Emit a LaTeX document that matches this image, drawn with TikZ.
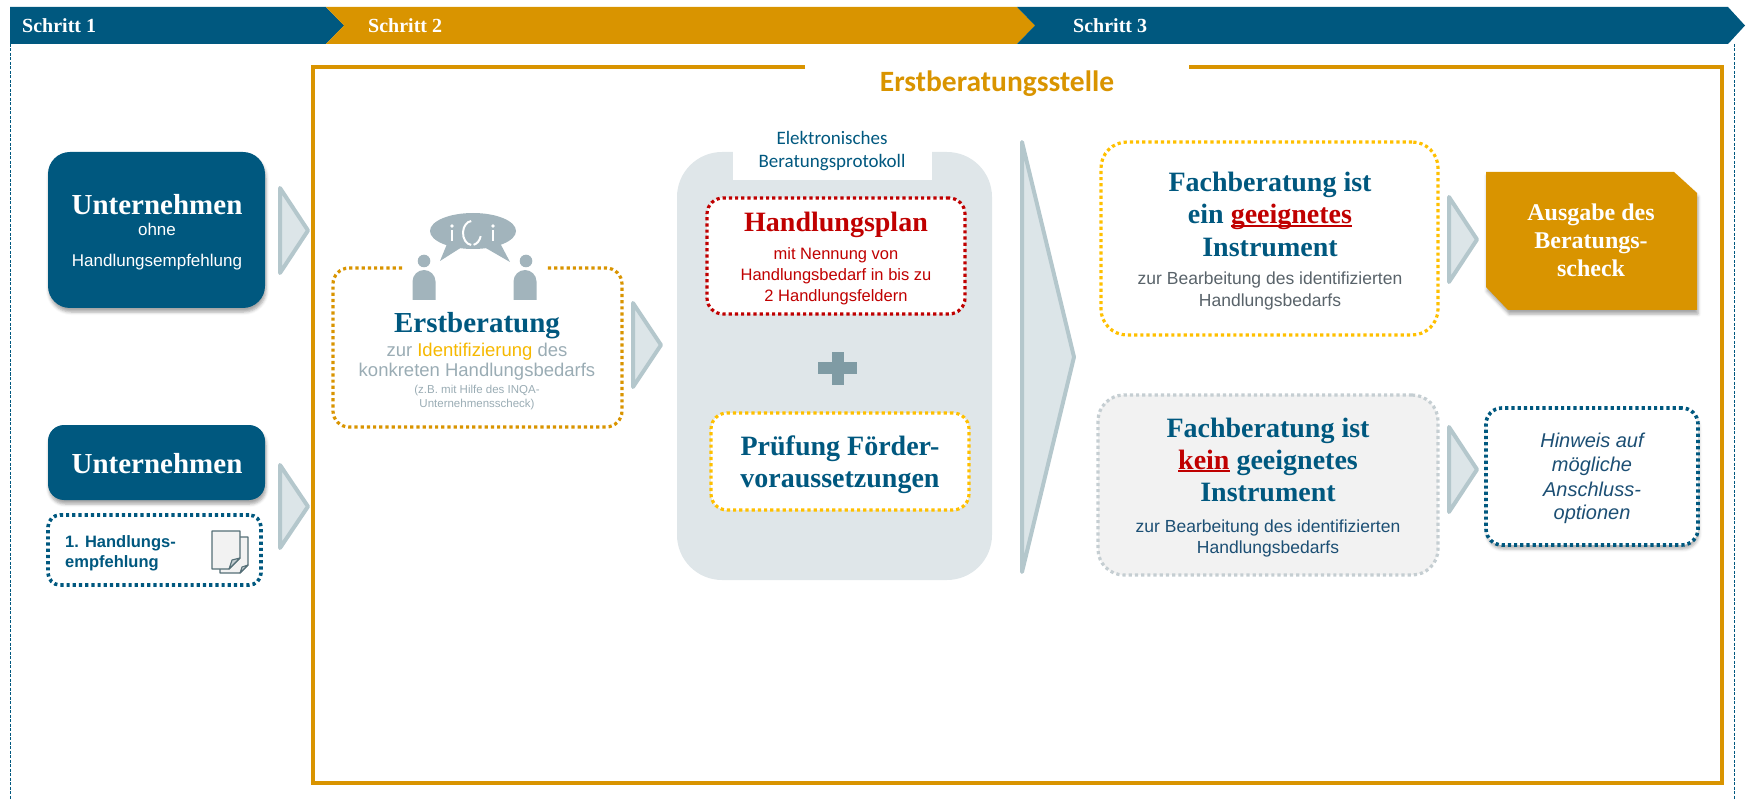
\documentclass[tikz,border=0pt]{standalone}
\usepackage{fontspec}
\setmainfont{Liberation Sans}
\newfontfamily\fcam{Liberation Serif}
\newfontfamily\fcarl{Carlito}
\usetikzlibrary{shadows.blur}
\newcommand\setfs[1]{\fontsize{#1}{#1}\selectfont}
\newcommand\redul[1]{\setbox0\hbox{#1}\rlap{\rule[-3pt]{\wd0}{1.8pt}}\box0}
\definecolor{dblue}{HTML}{00587F}
\definecolor{orng}{HTML}{D99400}
\definecolor{gtext}{HTML}{9AACB4}
\definecolor{ident}{HTML}{F6B800}
\definecolor{dred}{HTML}{C00000}
\definecolor{yel}{HTML}{FFC000}
\definecolor{panel}{HTML}{DFE6E9}
\definecolor{chevf}{HTML}{DCE5E8}
\definecolor{chevs}{HTML}{B4C7CC}
\definecolor{iconc}{HTML}{A2B4BC}
\definecolor{plusc}{HTML}{7F9BA4}
\definecolor{gbord}{HTML}{C5CED2}
\definecolor{gfill}{HTML}{F2F2F2}
\definecolor{dgray}{HTML}{59636A}
\definecolor{nblue}{HTML}{1C4F74}
\definecolor{docs}{HTML}{556F77}
\tikzset{
  txt/.style={inner sep=0pt, anchor=base},
  serifbig/.style={font=\fcam\bfseries\setfs{#1}},
  sansf/.style={font=\setfs{#1}},
  bluebox/.style={fill=dblue, inner sep=0pt, blur shadow={shadow xshift=1pt, shadow yshift=-4pt, shadow blur radius=3pt, shadow opacity=35}},
  dotbox/.style={fill=white, inner sep=0pt, line width=3.2pt, dash pattern=on 3.2pt off 3pt},
  chev/.style={fill=chevf, draw=chevs, line width=4pt, line join=round},
  frameline/.style={draw=dblue, line width=1pt, dash pattern=on 3pt off 1.5pt},
}
\begin{document}
\begin{tikzpicture}[x=1pt,y=-1pt]
\useasboundingbox (0,0) rectangle (1748,799);
% ---------- banner
\fill[dblue] (10,7) -- (326,7) -- (344,25.5) -- (326,44) -- (10,44) -- cycle;
\fill[orng] (326,7) -- (1017,7) -- (1035,25.5) -- (1017,44) -- (326,44) -- (344,25.5) -- cycle;
\fill[dblue] (1017,7) -- (1728,7) -- (1745,25.5) -- (1728,44) -- (1017,44) -- (1035,25.5) -- cycle;
\node[txt, anchor=base west, serifbig=20, text=white] (s1) at (22,33) {Schritt 1};
\node[txt, anchor=base west, serifbig=20, text=white] (s2) at (368,33) {Schritt 2};
\node[txt, anchor=base west, serifbig=20, text=white] (s3) at (1073,33) {Schritt 3};
% ---------- outer dashed frame
\coordinate (fl1) at (10,44); \coordinate (fl2) at (10,799);
\coordinate (fr1) at (1734,44); \coordinate (fr2) at (1734,799);
\draw[frameline] (fl1) -- (fl2);
\draw[frameline] (fr1) -- (fr2);
% ---------- orange frame
\draw[orng, line width=4pt] (805,67) -- (313,67) -- (313,783) -- (1722,783) -- (1722,67) -- (1189,67);
\node[txt, font=\fcarl\bfseries\setfs{29.5}, text=orng] (title) at (997,92) {Erstberatungsstelle};
% ---------- step 1 boxes
\node[bluebox, minimum width=217pt, minimum height=156pt, rounded corners=22pt] (u1) at (156.5,230) {};
\node[txt, serifbig=29, text=white] (u1a) at (157,215) {Unternehmen};
\node[txt, sansf=17, text=white] (u1b) at (157,236) {ohne};
\node[txt, sansf=17, text=white] (u1c) at (157,267) {Handlungsempfehlung};
\node[bluebox, minimum width=217pt, minimum height=75pt, rounded corners=16pt] (u2) at (156.5,462.5) {};
\node[txt, serifbig=29, text=white] (u2a) at (157,473) {Unternehmen};
\node[dotbox, draw=dblue, line width=3.6pt, minimum width=213pt, minimum height=70pt, rounded corners=12pt] (he) at (154.5,550) {};
\node[txt, anchor=base west, font=\bfseries\setfs{16.5}, text=dblue] (hea) at (65,547) {1. Handlungs-};
\node[txt, anchor=base west, font=\bfseries\setfs{16.5}, text=dblue] (heb) at (65,567) {empfehlung};
% document icon
\filldraw[fill=gfill, draw=docs, line width=1.3pt, line join=round] (220,537) -- (248,537) -- (248,565) -- (240,573) -- (220,573) -- cycle;
\filldraw[fill=gfill, draw=docs, line width=1.3pt, line join=round] (212,531) -- (240,531) -- (240,558) -- (229,569) -- (212,569) -- cycle;
\filldraw[fill=gbord, draw=docs, line width=1.1pt, line join=round] (229,569) -- (232,560) -- (240,558) -- cycle;
\filldraw[fill=gbord, draw=docs, line width=1.1pt, line join=round] (240,573) -- (242,567) -- (248,565) -- cycle;
% chevrons step1 -> step2
\draw[chev] (280,188) -- (308,230.5) -- (280,273) -- cycle;
\draw[chev] (280,465) -- (308,506.5) -- (280,548) -- cycle;
% ---------- Erstberatung
\node[inner sep=0pt, minimum width=289pt, minimum height=159pt] (erst) at (477.5,347.5) {};
\draw[orng, line width=3.2pt, dash pattern=on 3.2pt off 3pt, rounded corners=16pt] (402,268) -- (333,268) -- (333,427) -- (622,427) -- (622,268) -- (547,268);
% icon
\fill[iconc] (473,231) ellipse [x radius=43, y radius=18];
\fill[iconc] (447,244) -- (462,247) -- (440,261) -- cycle;
\fill[iconc] (484,247) -- (500,243) -- (510,262) -- cycle;
\fill[white] (452,226) circle [radius=1.8];
\fill[white] (450.8,230) rectangle (453.2,241);
\fill[white] (493,226) circle [radius=1.8];
\fill[white] (491.8,230) rectangle (494.2,241);
\draw[white, line width=2pt] (472,233) ++(95:9 and 12) arc [start angle=95, end angle=265, x radius=9, y radius=12];
\draw[white, line width=2pt] (472,233) ++(15:9 and 12) arc [start angle=15, end angle=80, x radius=9, y radius=12];
\fill[iconc] (424,261) circle [radius=6.3];
\fill[iconc] (412.5,300) -- (412.5,281.5) arc [start angle=180, end angle=360, radius=11.5] -- (435.5,300) -- cycle;
\fill[iconc] (526,261) circle [radius=6.3];
\fill[iconc] (513.5,300) -- (513.5,281.5) arc [start angle=180, end angle=360, radius=11.5] -- (536.5,300) -- cycle;
\node[txt, serifbig=29, text=dblue] (eb) at (477,333) {Erstberatung};
\node[txt, sansf=18.5, text=gtext] (eb1) at (477,357) {zur \textcolor{ident}{Identifizierung} des};
\node[txt, sansf=18.5, text=gtext] (eb2) at (477,377) {konkreten Handlungsbedarfs};
\node[txt, sansf=11.5, text=gtext] (eb3) at (477,394) {(z.B. mit Hilfe des INQA-};
\node[txt, sansf=11.5, text=gtext] (eb4) at (477,407) {Unternehmensscheck)};
\draw[chev] (633,303) -- (661,345) -- (633,387) -- cycle;
% ---------- panel
\node[fill=panel, rounded corners=45pt, minimum width=315pt, minimum height=428pt, inner sep=0pt] (panel) at (834.5,366) {};
\node[fill=white, minimum width=199pt, minimum height=40pt, inner sep=0pt] (tab) at (832.5,160) {};
\node[txt, font=\fcarl\setfs{19}, text=dblue] (ep1) at (832,145) {Elektronisches};
\node[txt, font=\fcarl\setfs{19}, text=dblue] (ep2) at (832,168) {Beratungsprotokoll};
\node[dotbox, draw=dred, minimum width=258pt, minimum height=116pt, rounded corners=16pt] (hplan) at (836,256) {};
\node[txt, serifbig=28, text=dred] (hp1) at (836,232) {Handlungsplan};
\node[txt, sansf=16.5, text=dred] (hp2) at (836,260) {mit Nennung von};
\node[txt, sansf=16.5, text=dred] (hp3) at (836,281) {Handlungsbedarf in bis zu};
\node[txt, sansf=16.5, text=dred] (hp4) at (836,302) {2 Handlungsfeldern};
\fill[plusc] (817.5,362.5) rectangle (856.5,374.5);
\fill[plusc] (831.5,352) rectangle (843.5,385);
\node[dotbox, draw=yel, minimum width=258pt, minimum height=97pt, rounded corners=16pt] (pruef) at (840,461.5) {};
\node[txt, serifbig=28, text=dblue] (pr1) at (840,455) {Prüfung Förder-};
\node[txt, serifbig=28, text=dblue] (pr2) at (840,487) {voraussetzungen};
% big chevron
\draw[chev] (1022,142) -- (1074,357) -- (1022,572) -- cycle;
% ---------- step 3
\node[dotbox, draw=yel, minimum width=337pt, minimum height=193pt, rounded corners=26pt] (fach1) at (1269.5,238.5) {};
\node[txt, serifbig=28, text=dblue] (f1a) at (1270,192) {Fachberatung ist};
\node[txt, serifbig=28, text=dblue] (f1b) at (1270,224) {ein \textcolor{dred}{\redul{geeignetes}}};
\node[txt, serifbig=28, text=dblue] (f1c) at (1270,257) {Instrument};
\node[txt, sansf=17.5, text=dgray] (f1d) at (1270,285) {zur Bearbeitung des identifizierten};
\node[txt, sansf=17.5, text=dgray] (f1e) at (1270,307) {Handlungsbedarfs};
\draw[chev] (1449,197) -- (1477,239.5) -- (1449,282) -- cycle;
\fill[orng, blur shadow={shadow xshift=1pt, shadow yshift=-4pt, shadow blur radius=3pt, shadow opacity=35}] (1486,172) -- (1674,172) -- (1697,193) -- (1697,310) -- (1508,310) -- (1486,287) -- cycle;
\node[txt, serifbig=24, text=white] (ag1) at (1591,221) {Ausgabe des};
\node[txt, serifbig=24, text=white] (ag2) at (1591,249) {Beratungs-};
\node[txt, serifbig=24, text=white] (ag3) at (1591,277) {scheck};
\node[dotbox, draw=gbord, fill=gfill, minimum width=340pt, minimum height=180pt, rounded corners=26pt] (fach2) at (1268,485) {};
\node[txt, serifbig=28, text=dblue] (f2a) at (1268,437) {Fachberatung ist};
\node[txt, serifbig=28, text=dblue] (f2b) at (1268,469) {\textcolor{dred}{\redul{kein}} geeignetes};
\node[txt, serifbig=28, text=dblue] (f2c) at (1268,501) {Instrument};
\node[txt, sansf=17.5, text=nblue] (f2d) at (1268,532) {zur Bearbeitung des identifizierten};
\node[txt, sansf=17.5, text=nblue] (f2e) at (1268,553) {Handlungsbedarfs};
\draw[chev] (1449,427) -- (1477,469.5) -- (1449,512) -- cycle;
\node[dotbox, draw=dblue, line width=3.6pt, minimum width=212pt, minimum height=137pt, rounded corners=16pt, blur shadow={shadow xshift=1pt, shadow yshift=-4pt, shadow blur radius=3pt, shadow opacity=30}] (hinw) at (1592,476.5) {};
\node[txt, font=\itshape\setfs{20}, text=nblue] (hw1) at (1592,447) {Hinweis auf};
\node[txt, font=\itshape\setfs{20}, text=nblue] (hw2) at (1592,471) {mögliche};
\node[txt, font=\itshape\setfs{20}, text=nblue] (hw3) at (1592,496) {Anschluss-};
\node[txt, font=\itshape\setfs{20}, text=nblue] (hw4) at (1592,519) {optionen};
\end{tikzpicture}
\end{document}
